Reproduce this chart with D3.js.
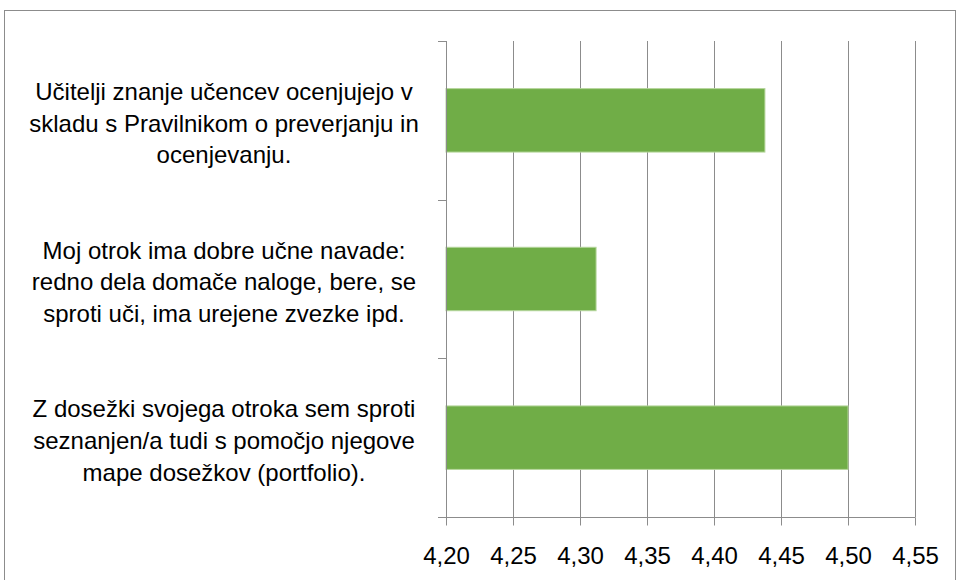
<!DOCTYPE html>
<html>
<head>
<meta charset="utf-8">
<script src="https://cdn.jsdelivr.net/npm/d3@7"></script>
<style>
  body { margin: 0; background: #fff; }
  svg { display: block; font-family: "Liberation Sans", Arial, sans-serif; }
</style>
</head>
<body>
<div id="chart"></div>
<script>
const categories = [
  ["Učitelji znanje učencev ocenjujejo v", "skladu s Pravilnikom o preverjanju in", "ocenjevanju."],
  ["Moj otrok ima dobre učne navade:", "redno dela domače naloge, bere, se", "sproti uči, ima urejene zvezke ipd."],
  ["Z dosežki svojega otroka sem sproti", "seznanjen/a tudi s pomočjo njegove", "mape dosežkov (portfolio)."]
];
const values = [4.438, 4.312, 4.50];
const tickValues = [4.20, 4.25, 4.30, 4.35, 4.40, 4.45, 4.50, 4.55];

const width = 957, height = 580;
const margin = { top: 41, right: 42, bottom: 63, left: 446 };

const svg = d3.select("#chart").append("svg")
  .attr("width", width)
  .attr("height", height);

// outer frame
svg.append("rect")
  .attr("x", 4.5).attr("y", 10.5)
  .attr("width", width - 6).attr("height", height)
  .attr("fill", "none").attr("stroke", "#8c8c8c");

const x = d3.scaleLinear().domain([4.2, 4.55]).range([margin.left, width - margin.right]);
const y = d3.scaleBand().domain(d3.range(categories.length))
  .range([margin.top, height - margin.bottom]).paddingInner(0.6).paddingOuter(0.3);
const yEdges = d3.scaleLinear().domain([0, categories.length])
  .range([margin.top, height - margin.bottom]);

// gridlines
svg.append("g").selectAll("line")
  .data(tickValues.slice(1))
  .join("line")
  .attr("x1", d => Math.round(x(d)) + 0.5).attr("x2", d => Math.round(x(d)) + 0.5)
  .attr("y1", margin.top).attr("y2", height - margin.bottom)
  .attr("stroke", "#8c8c8c");

// bars
svg.append("g").selectAll("rect")
  .data(values)
  .join("rect")
  .attr("x", x(4.2))
  .attr("y", (d, i) => y(i))
  .attr("width", d => x(d) - x(4.2))
  .attr("height", y.bandwidth())
  .attr("fill", "#70ad47")
  .attr("stroke", "#b5d69c")
  .attr("stroke-width", 1);

// x axis
const xAxis = svg.append("g")
  .attr("transform", `translate(0,${height - margin.bottom + 0.5})`)
  .call(d3.axisBottom(x).tickValues(tickValues).tickSize(8).tickSizeOuter(0)
    .tickFormat(d => d.toFixed(2).replace(".", ",")));
xAxis.select(".domain").attr("d", `M${margin.left - 8},0H${Math.round(x(4.55)) + 0.5}`).attr("stroke", "#8c8c8c");
xAxis.selectAll(".tick line").attr("stroke", "#8c8c8c");
xAxis.selectAll(".tick text")
  .attr("y", 29.5).attr("dy", "0.71em")
  .attr("font-size", 24).attr("fill", "#000")
  .attr("font-family", "\"Liberation Sans\", Arial, sans-serif");

// y axis line with category separators
const yAxis = svg.append("g");
yAxis.append("line")
  .attr("x1", margin.left + 0.5).attr("x2", margin.left + 0.5)
  .attr("y1", margin.top).attr("y2", height - margin.bottom)
  .attr("stroke", "#8c8c8c");
yAxis.selectAll("line.sep")
  .data(d3.range(categories.length + 1))
  .join("line")
  .attr("class", "sep")
  .attr("x1", margin.left - 8).attr("x2", margin.left)
  .attr("y1", d => Math.round(yEdges(d)) + 0.5).attr("y2", d => Math.round(yEdges(d)) + 0.5)
  .attr("stroke", "#8c8c8c");

// category labels
const labels = svg.append("g").selectAll("text")
  .data(categories)
  .join("text")
  .attr("text-anchor", "middle")
  .attr("font-size", 24)
  .attr("fill", "#000");
labels.each(function(lines, i) {
  const cy = y(i) + y.bandwidth() / 2;
  d3.select(this).selectAll("tspan")
    .data(lines)
    .join("tspan")
    .attr("x", 224)
    .attr("y", (d, j) => cy + 3 + (j - 1) * 31.7)
    .attr("dy", "0.35em")
    .text(d => d);
});
</script>
</body>
</html>
